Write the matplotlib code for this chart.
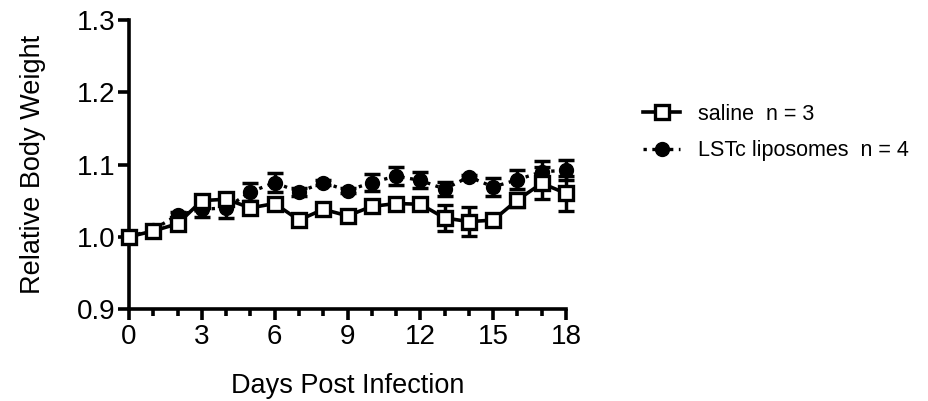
import numpy as np
import matplotlib.pyplot as plt
from matplotlib.lines import Line2D
from matplotlib.ticker import MultipleLocator

plt.rcParams['font.family'] = ['Liberation Sans', 'DejaVu Sans']

days = np.arange(0, 19)

# saline group, n = 3
saline_mean = [1.000, 1.008, 1.018, 1.050, 1.052, 1.040, 1.046, 1.023, 1.038, 1.029,
               1.042, 1.046, 1.045, 1.026, 1.021, 1.023, 1.051, 1.074, 1.060]
saline_err = [0.004, 0.004, 0.004, 0.006, 0.006, 0.006, 0.006, 0.004, 0.004, 0.008,
              0.004, 0.006, 0.006, 0.018, 0.020, 0.006, 0.010, 0.022, 0.024]

# LSTc liposomes group, n = 4
lstc_mean = [1.000, 1.010, 1.030, 1.038, 1.040, 1.062, 1.075, 1.062, 1.075, 1.064,
             1.075, 1.084, 1.078, 1.066, 1.083, 1.069, 1.079, 1.090, 1.092]
lstc_err = [0.003, 0.004, 0.004, 0.010, 0.014, 0.012, 0.013, 0.006, 0.003, 0.004,
            0.012, 0.013, 0.011, 0.010, 0.003, 0.012, 0.013, 0.015, 0.014]

fig = plt.figure(figsize=(9.29, 4.01), dpi=100)
ax = fig.add_axes([0.1389, 0.2294, 0.4704, 0.7207])

ax.errorbar(days, lstc_mean, yerr=lstc_err, color='black', linestyle=':', linewidth=2.4,
            marker='o', markersize=10, capsize=6, capthick=2.5, elinewidth=2.5,
            clip_on=False, zorder=3)
ax.errorbar(days, saline_mean, yerr=saline_err, color='black', linestyle='-', linewidth=2.6,
            marker='s', markersize=10, markerfacecolor='white', markeredgewidth=2.4,
            capsize=6, capthick=2.5, elinewidth=2.5,
            clip_on=False, zorder=4)

ax.set_xlim(0, 18)
ax.set_ylim(0.9, 1.3)
ax.xaxis.set_major_locator(MultipleLocator(3))
ax.xaxis.set_minor_locator(MultipleLocator(1))
ax.yaxis.set_major_locator(MultipleLocator(0.1))
ax.yaxis.set_major_formatter(plt.FuncFormatter(lambda v, p: f'{v:.1f}'))

for s in ['top', 'right']:
    ax.spines[s].set_visible(False)
for s in ['left', 'bottom']:
    ax.spines[s].set_linewidth(2.6)

ax.tick_params(axis='both', which='major', length=8, width=2.6, labelsize=20, pad=2)
ax.tick_params(axis='x', which='minor', length=5, width=2.6)
ax.tick_params(axis='x', which='major', pad=3)

ax.set_xlabel('Days Post Infection', fontsize=19.5, labelpad=16)
ax.set_ylabel('Relative Body Weight', fontsize=19.5, labelpad=22)

handles = [
    Line2D([], [], color='black', linestyle='-', linewidth=2.6, marker='s', markersize=10,
           markerfacecolor='white', markeredgewidth=2.4),
    Line2D([], [], color='black', linestyle=':', linewidth=2.4, marker='o', markersize=10),
]
labels = ['saline  n = 3', 'LSTc liposomes  n = 4']
fig.legend(handles, labels, loc='upper left', bbox_to_anchor=(0.671, 0.79),
           frameon=False, fontsize=15.5, handlelength=1.75, handletextpad=0.8,
           labelspacing=0.72)

fig.savefig('out.png', dpi=100)
